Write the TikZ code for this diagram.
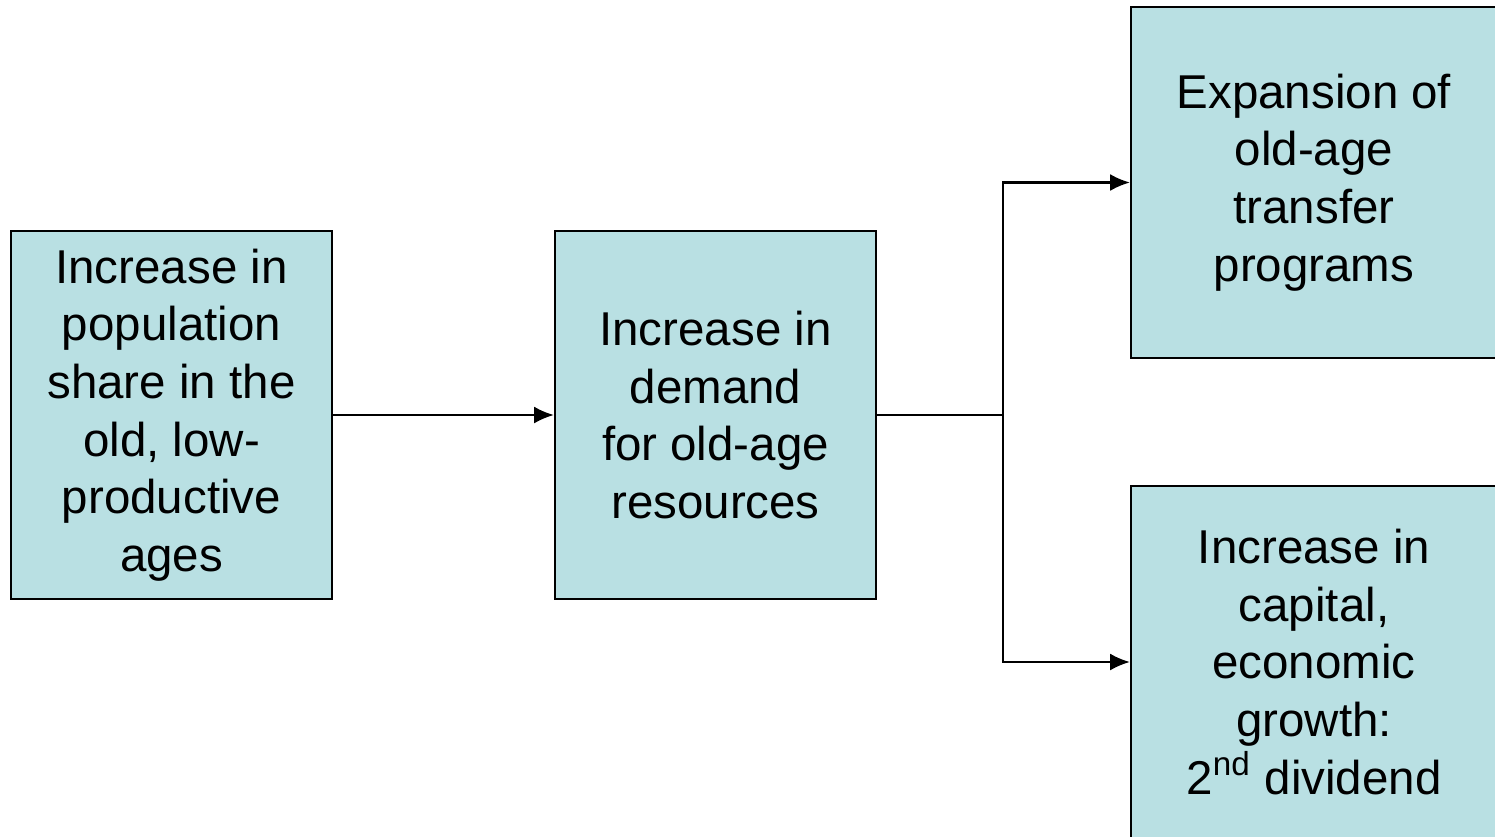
\documentclass[tikz,border=0pt]{standalone}
\usepackage{fontspec}
\setmainfont{Liberation Sans}
\usetikzlibrary{arrows.meta}
\definecolor{boxfill}{RGB}{185,224,227}
\begin{document}
\begin{tikzpicture}[x=0.01cm, y=-0.01cm,
        entity/.style={draw, line width=0.6pt, fill=boxfill, rectangle, align=center, inner sep=0pt, minimum width=3.21cm, minimum height=3.68cm, font=\fontsize{13.5}{16.4}\selectfont},
        rel/.style={-{Latex[length=5.6pt, width=4.8pt]}, line width=0.6pt}
    ]
        \useasboundingbox (0,0) rectangle (1495,836);
        \node[entity] (share) at (171.5, 415) {Increase in\\population\\share in the\\old, low-\\productive\\ages};
        \node[entity] (demand) at (715.5, 415) {Increase in\\demand\\for old-age\\resources};
        \node[entity, minimum width=3.66cm, minimum height=3.51cm] (transfer) at (1314, 182.5) {Expansion of\\old-age\\transfer\\programs};
        \node[entity, minimum width=3.66cm, minimum height=3.51cm] (capital) at (1314, 662) {Increase in\\capital,\\economic\\growth:\\2\textsuperscript{nd} dividend};
        \coordinate (split) at (1003, 415);

        \draw[rel] (share) -- (demand);
        \draw[line width=0.6pt] (demand) -- (split);
        \draw[rel] (split) |- (transfer.west);
        \draw[rel] (split) |- (capital.west);
    \end{tikzpicture}
\end{document}
